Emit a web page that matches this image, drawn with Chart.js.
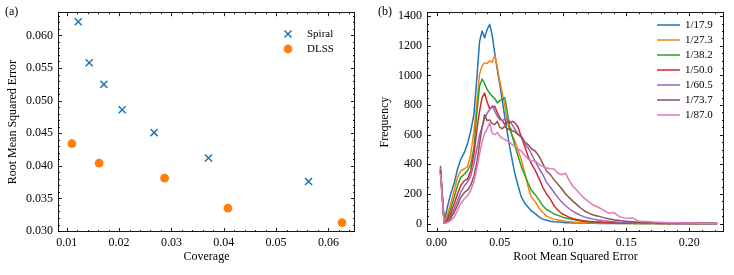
<!DOCTYPE html>
<html>
<head>
<meta charset="utf-8">
<script src="https://cdn.jsdelivr.net/npm/chart.js@4.4.0/dist/chart.umd.min.js"></script>
<style>
  html, body { margin: 0; padding: 0; background: #fff; }
  #wrap { position: relative; width: 734px; height: 275px; }
  canvas { position: absolute; top: 0; }
  #chartA { left: 0; }
  #chartB { left: 367px; }
</style>
</head>
<body>
<div id="wrap">
  <canvas id="chartA" width="367" height="275"></canvas>
  <canvas id="chartB" width="367" height="275"></canvas>
</div>
<script>
// --- Data: panel (a) ---
const spiralCoverage = [0.0122, 0.0143, 0.0171, 0.0206, 0.0267, 0.0371, 0.0562];
const spiralRmse = [0.0621, 0.0558, 0.0525, 0.0486, 0.0451, 0.0412, 0.0376];
const dlssCoverage = [0.0110, 0.0162, 0.0287, 0.0408, 0.0626];
const dlssRmse = [0.0434, 0.0404, 0.0381, 0.0335, 0.0313];
const coverageTicks = [0.01, 0.02, 0.03, 0.04, 0.05, 0.06];
const rmseTicksA = [0.030, 0.035, 0.040, 0.045, 0.050, 0.055, 0.060];

// --- Data: panel (b) ---
const rmseBins = [0.003, 0.006, 0.0085, 0.011, 0.014, 0.0165, 0.019, 0.022, 0.0245, 0.027,
  0.0295, 0.032, 0.034, 0.036, 0.038, 0.040, 0.042, 0.044, 0.046, 0.048,
  0.050, 0.052, 0.054, 0.056, 0.058, 0.060, 0.062, 0.0645, 0.067, 0.070,
  0.0725, 0.075, 0.078, 0.081, 0.084, 0.087, 0.090, 0.093, 0.096, 0.099,
  0.102, 0.105, 0.108, 0.111, 0.114, 0.117, 0.120, 0.124, 0.128, 0.132,
  0.136, 0.140, 0.145, 0.150, 0.155, 0.160, 0.166, 0.172, 0.178, 0.184,
  0.190, 0.196, 0.202, 0.208, 0.214, 0.222];
const freq179 = [390, 8, 110, 195, 275, 365, 432, 480, 540, 625,
  735, 1000, 1230, 1300, 1255, 1310, 1345, 1270, 1150, 1040,
  940, 830, 715, 610, 510, 420, 335, 255, 180, 134,
  110, 85, 67, 45, 30, 22, 16, 12, 10, 8,
  6, 5, 4, 4, 3, 3, 2, 2, 1, 1,
  1, 1, 1, 0, 0, 0, 0, 0, 0, 0,
  0, 0, 0, 0, 0, 0];
const freq273 = [375, 5, 56, 130, 225, 310, 355, 370, 385, 468,
  620, 830, 1010, 1065, 1085, 1080, 1100, 1090, 1135, 1060,
  960, 880, 790, 680, 630, 595, 555, 495, 430, 335,
  245, 180, 148, 105, 75, 50, 38, 30, 24, 20,
  16, 13, 10, 8, 7, 6, 5, 4, 3, 3,
  2, 2, 1, 1, 1, 1, 0, 0, 0, 0,
  0, 0, 0, 0, 0, 0];
const freq382 = [365, 4, 33, 95, 180, 255, 310, 335, 358, 400,
  510, 760, 930, 975, 945, 905, 880, 860, 845, 815,
  830, 840, 850, 750, 640, 585, 525, 455, 385, 323,
  270, 225, 195, 160, 120, 95, 80, 65, 55, 45,
  38, 32, 27, 22, 18, 15, 12, 10, 8, 6,
  5, 4, 3, 2, 2, 1, 1, 1, 0, 0,
  0, 0, 0, 0, 0, 0];
const freq500 = [360, 3, 22, 65, 135, 200, 255, 290, 300, 355,
  465, 640, 760, 850, 880, 820, 775, 785, 792, 750,
  715, 695, 668, 690, 680, 690, 680, 650, 585, 515,
  450, 405, 360, 305, 245, 200, 165, 120, 90, 68,
  55, 42, 33, 27, 22, 18, 15, 12, 10, 8,
  7, 6, 5, 4, 3, 3, 2, 2, 1, 1,
  1, 1, 0, 0, 0, 0];
const freq605 = [360, 2, 15, 42, 100, 155, 210, 255, 280, 322,
  400, 510, 600, 650, 710, 745, 770, 795, 760, 725,
  702, 695, 705, 710, 690, 665, 635, 605, 580, 540,
  510, 470, 420, 375, 330, 280, 245, 210, 175, 145,
  120, 100, 82, 68, 55, 45, 38, 30, 24, 19,
  15, 12, 9, 7, 5, 4, 3, 2, 2, 1,
  1, 1, 1, 0, 0, 0];
const freq737 = [350, 2, 11, 33, 78, 122, 175, 210, 225, 258,
  320, 420, 540, 650, 735, 695, 700, 675, 668, 690,
  650, 640, 658, 635, 645, 625, 620, 600, 590, 548,
  533, 505, 490, 455, 405, 355, 330, 295, 265, 235,
  200, 175, 150, 128, 105, 85, 72, 58, 50, 40,
  32, 26, 20, 15, 12, 9, 7, 5, 4, 3,
  2, 2, 1, 1, 1, 0];
const freq870 = [340, 1, 7, 18, 44, 89, 134, 167, 190, 223,
  280, 380, 470, 550, 610, 640, 680, 610, 600, 615,
  590, 575, 568, 557, 548, 530, 524, 503, 490, 458,
  435, 423, 423, 400, 385, 375, 370, 368, 340, 330,
  340, 290, 250, 225, 195, 170, 150, 125, 110, 90,
  70, 75, 45, 35, 38, 15, 14, 10, 8, 6,
  5, 4, 3, 2, 2, 1];
const seriesLabels = ['1/17.9', '1/27.3', '1/38.2', '1/50.0', '1/60.5', '1/73.7', '1/87.0'];
const seriesColors = ['#1f77b4', '#ff7f0e', '#2ca02c', '#d62728', '#9467bd', '#8c564b', '#e377c2'];
const seriesValues = [freq179, freq273, freq382, freq500, freq605, freq737, freq870];
const rmseTicksB = [0.00, 0.05, 0.10, 0.15, 0.20];
const freqTicks = [0, 200, 400, 600, 800, 1000, 1200, 1400];

// --- Style ---
const serif = "'Liberation Serif', 'DejaVu Serif', serif";
Chart.defaults.font.family = serif;
Chart.defaults.color = '#000';
const tickFont = { family: serif, size: 12 };
const titleFont = { family: serif, size: 12 };

// frame + inward ticks on all four sides (matplotlib look)
const frameTicks = {
  id: 'frameTicks',
  afterDatasetsDraw(chart) {
    const { ctx, chartArea: a, scales } = chart;
    const o = chart.options.plugins.frameTicks;
    ctx.save();
    ctx.strokeStyle = '#000';
    ctx.lineWidth = 0.9;
    const seg = (x1, y1, x2, y2) => { ctx.beginPath(); ctx.moveTo(x1, y1); ctx.lineTo(x2, y2); ctx.stroke(); };
    ['x', 'y'].forEach(id => {
      const s = scales[id];
      const major = s.ticks.map(t => t.value);
      const { step, sub } = o[id];
      const minor = [];
      for (let i = -1; i < major.length; i++) {
        for (let k = 1; k < sub; k++) {
          const v = major[0] + (i + k / sub) * step;
          if (v >= s.min && v <= s.max) minor.push(v);
        }
      }
      const draw = (v, len) => {
        const p = Math.round(s.getPixelForValue(v)) + 0.5;
        if (id === 'x') { seg(p, a.bottom, p, a.bottom - len); seg(p, a.top, p, a.top + len); }
        else { seg(a.left, p, a.left + len, p); seg(a.right, p, a.right - len, p); }
      };
      major.forEach(v => draw(v, 4));
      minor.forEach(v => draw(v, 2));
    });
    ctx.strokeRect(Math.round(a.left) + 0.5, Math.round(a.top) + 0.5,
      Math.round(a.right - a.left) - 1, Math.round(a.bottom - a.top) - 1);
    ctx.restore();
  }
};

// panel letter + hand drawn legend inside the axes
const panelExtras = {
  id: 'panelExtras',
  afterDraw(chart) {
    const { ctx } = chart;
    const o = chart.options.plugins.panelExtras;
    ctx.save();
    ctx.fillStyle = '#000';
    ctx.font = `12px ${serif}`;
    ctx.textBaseline = 'middle';
    ctx.textAlign = 'left';
    ctx.fillText(o.label, o.labelX, 12);
    ctx.font = `11px ${serif}`;
    chart.data.datasets.forEach((ds, i) => {
      const y = o.y + i * o.dy;
      if (o.kind === 'line') {
        ctx.strokeStyle = ds.borderColor;
        ctx.lineWidth = 1.5;
        ctx.beginPath(); ctx.moveTo(o.x, y); ctx.lineTo(o.x + 23, y); ctx.stroke();
      } else if (ds.pointStyle === 'crossRot') {
        const off = ds.pointRadius * Math.SQRT1_2;
        ctx.strokeStyle = ds.borderColor;
        ctx.lineWidth = ds.borderWidth;
        ctx.beginPath();
        ctx.moveTo(o.x - off, y - off); ctx.lineTo(o.x + off, y + off);
        ctx.moveTo(o.x - off, y + off); ctx.lineTo(o.x + off, y - off);
        ctx.stroke();
      } else {
        ctx.fillStyle = ds.backgroundColor;
        ctx.beginPath(); ctx.arc(o.x, y, ds.pointRadius, 0, Math.PI * 2); ctx.fill();
      }
      ctx.fillStyle = '#000';
      ctx.fillText(ds.label, o.textX, y);
    });
    ctx.restore();
  }
};

function axis(opts) {
  return {
    type: 'linear',
    min: opts.min,
    max: opts.max,
    grid: { display: false, drawTicks: false },
    border: { display: false },
    afterBuildTicks: s => { s.ticks = opts.ticks.map(v => ({ value: v })); },
    afterFit: opts.fit,
    ticks: { font: tickFont, color: '#000', padding: opts.pad, autoSkip: false, maxRotation: 0, callback: opts.fmt },
    title: { display: true, text: opts.title, font: titleFont, color: '#000', padding: opts.titlePad }
  };
}

// --- Panel (a) ---
new Chart(document.getElementById('chartA'), {
  type: 'scatter',
  data: {
    datasets: [
      {
        label: 'Spiral',
        data: spiralCoverage.map((c, i) => ({ x: c, y: spiralRmse[i] })),
        pointStyle: 'crossRot', pointRadius: 5, pointHoverRadius: 5,
        borderColor: '#1f77b4', backgroundColor: '#1f77b4', borderWidth: 1.5
      },
      {
        label: 'DLSS',
        data: dlssCoverage.map((c, i) => ({ x: c, y: dlssRmse[i] })),
        pointStyle: 'circle', pointRadius: 4.4, pointHoverRadius: 4.4,
        borderColor: '#ff7f0e', backgroundColor: '#ff7f0e', borderWidth: 0
      }
    ]
  },
  options: {
    responsive: false,
    animation: false,
    layout: { padding: { left: 0, right: 12, top: 10, bottom: 0 } },
    plugins: {
      legend: { display: false },
      tooltip: { enabled: false },
      frameTicks: { x: { step: 0.01, sub: 5 }, y: { step: 0.005, sub: 5 } },
      panelExtras: { label: '(a)', labelX: 5, kind: 'marker', x: 288, textX: 307, y: 34, dy: 15 }
    },
    scales: {
      x: axis({ min: 0.00834, max: 0.06508, ticks: coverageTicks, fit: s => { s.height = 43; },
        pad: 4, fmt: v => v.toFixed(2), title: 'Coverage', titlePad: { top: 0, bottom: 11 } }),
      y: axis({ min: 0.02985, max: 0.06356, ticks: rmseTicksA, fit: s => { s.width = 58; },
        pad: 5, fmt: v => v.toFixed(3), title: 'Root Mean Squared Error', titlePad: { top: 6, bottom: 0 } })
    }
  },
  plugins: [frameTicks, panelExtras]
});

// --- Panel (b) ---
new Chart(document.getElementById('chartB'), {
  type: 'line',
  data: {
    datasets: seriesValues.map((vals, i) => ({
      label: seriesLabels[i],
      data: rmseBins.map((x, j) => ({ x, y: vals[j] })),
      borderColor: seriesColors[i],
      borderWidth: 1.5,
      pointRadius: 0,
      tension: 0,
      borderJoinStyle: 'round',
      order: seriesValues.length - i
    }))
  },
  options: {
    responsive: false,
    animation: false,
    layout: { padding: { left: 0, right: 10, top: 10, bottom: 0 } },
    plugins: {
      legend: { display: false },
      tooltip: { enabled: false },
      frameTicks: { x: { step: 0.05, sub: 5 }, y: { step: 200, sub: 4 } },
      panelExtras: { label: '(b)', labelX: 11, kind: 'line', x: 290, textX: 318, y: 25, dy: 15 }
    },
    scales: {
      x: axis({ min: -0.0076, max: 0.2274, ticks: rmseTicksB, fit: s => { s.height = 43; },
        pad: 4, fmt: v => v.toFixed(2), title: 'Root Mean Squared Error', titlePad: { top: 0, bottom: 11 } }),
      y: axis({ min: -57, max: 1427, ticks: freqTicks, fit: s => { s.width = 60; },
        pad: 5, fmt: v => String(v), title: 'Frequency', titlePad: { top: 11, bottom: 0 } })
    }
  },
  plugins: [frameTicks, panelExtras]
});
</script>
</body>
</html>
